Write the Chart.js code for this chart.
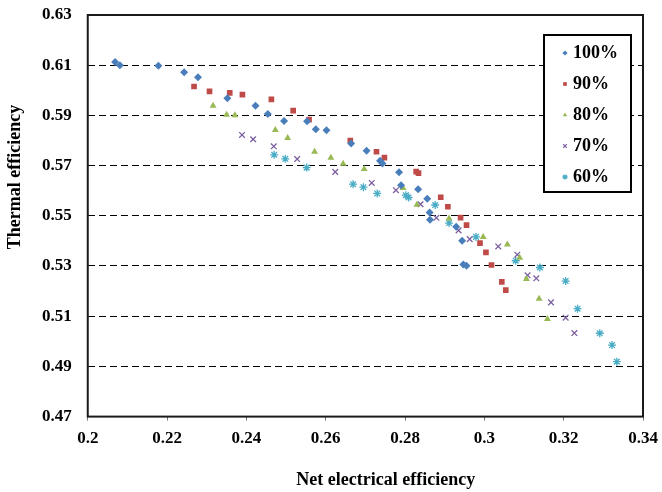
<!DOCTYPE html>
<html>
<head>
<meta charset="utf-8">
<script src="https://cdn.jsdelivr.net/npm/chart.js@4/dist/chart.umd.min.js"></script>
<style>
  html, body { margin: 0; padding: 0; background: #fff; }
  #wrap { width: 662px; height: 492px; }
</style>
</head>
<body>
<div id="wrap"><canvas id="effChart" width="662" height="492"></canvas></div>
<script>
// series
const seriesNames = ['100%', '90%', '80%', '70%', '60%'];

const x100 = [0.2069, 0.2081, 0.2178, 0.2243, 0.2278, 0.2352, 0.2423, 0.2454, 0.2495, 0.2553, 0.2575, 0.2602, 0.2664, 0.2703, 0.2737, 0.2743, 0.2785, 0.2790, 0.2833, 0.2856, 0.2862, 0.2863, 0.2929, 0.2944, 0.2947, 0.2955];
const y100 = [0.6113, 0.6100, 0.6098, 0.6072, 0.6052, 0.5968, 0.5938, 0.5906, 0.5878, 0.5877, 0.5845, 0.5841, 0.5788, 0.5759, 0.5719, 0.5708, 0.5674, 0.5622, 0.5606, 0.5568, 0.5513, 0.5484, 0.5456, 0.5401, 0.5306, 0.5301];

const x90 = [0.2268, 0.2307, 0.2358, 0.2390, 0.2463, 0.2518, 0.2558, 0.2662, 0.2728, 0.2748, 0.2828, 0.2834, 0.2890, 0.2908, 0.2940, 0.2955, 0.2989, 0.3004, 0.3018, 0.3044, 0.3054];
const y90 = [0.6015, 0.5996, 0.5990, 0.5983, 0.5964, 0.5919, 0.5883, 0.5800, 0.5755, 0.5732, 0.5676, 0.5670, 0.5574, 0.5536, 0.5493, 0.5463, 0.5391, 0.5354, 0.5304, 0.5237, 0.5204];

const x80 = [0.2316, 0.2350, 0.2371, 0.2473, 0.2504, 0.2572, 0.2613, 0.2644, 0.2697, 0.2795, 0.2830, 0.2911, 0.2997, 0.3058, 0.3089, 0.3106, 0.3138, 0.3159];
const y80 = [0.5938, 0.5903, 0.5901, 0.5842, 0.5810, 0.5755, 0.5731, 0.5707, 0.5686, 0.5611, 0.5544, 0.5489, 0.5416, 0.5386, 0.5333, 0.5248, 0.5170, 0.5089];

const x70 = [0.2389, 0.2417, 0.2469, 0.2528, 0.2624, 0.2716, 0.2777, 0.2839, 0.2879, 0.2935, 0.2963, 0.3035, 0.3083, 0.3109, 0.3131, 0.3168, 0.3205, 0.3227];
const y70 = [0.5822, 0.5805, 0.5777, 0.5726, 0.5675, 0.5631, 0.5602, 0.5546, 0.5492, 0.5442, 0.5407, 0.5378, 0.5345, 0.5263, 0.5251, 0.5155, 0.5094, 0.5033];

const x60 = [0.2470, 0.2498, 0.2552, 0.2669, 0.2695, 0.2730, 0.2802, 0.2809, 0.2876, 0.2911, 0.2979, 0.3079, 0.3140, 0.3205, 0.3235, 0.3291, 0.3322, 0.3334];
const y60 = [0.5743, 0.5727, 0.5692, 0.5626, 0.5614, 0.5589, 0.5582, 0.5573, 0.5543, 0.5471, 0.5416, 0.5321, 0.5294, 0.5240, 0.5130, 0.5032, 0.4985, 0.4919];

const xTickLabels = ['0.2', '0.22', '0.24', '0.26', '0.28', '0.3', '0.32', '0.34'];
const yTickLabels = ['0.47', '0.49', '0.51', '0.53', '0.55', '0.57', '0.59', '0.61', '0.63'];

const FONT = "'Liberation Serif', 'Times New Roman', serif";

function toPoints(xs, ys) {
    return xs.map((x, i) => ({ x: x, y: ys[i] }));
}

function makeSet(label, xs, ys, color, style, stroked) {
    return {
        label: label,
        data: toPoints(xs, ys),
        pointStyle: style,
        pointRadius: 4,
        backgroundColor: color,
        borderColor: color,
        borderWidth: stroked ? 1.3 : 0,
        showLine: false
    };
}

// frame around the plot area
const framePlugin = {
    id: 'frame',
    afterDraw(chart) {
        const a = chart.chartArea, ctx = chart.ctx;
        ctx.save();
        ctx.strokeStyle = '#1a1a1a';
        ctx.lineWidth = 2;
        ctx.strokeRect(a.left, a.top, a.right - a.left, a.bottom - a.top);
        ctx.restore();
    }
};

// axis titles, placed like the original (not centred on the plot)
const titlesPlugin = {
    id: 'axisTitles',
    afterDraw(chart) {
        const a = chart.chartArea, ctx = chart.ctx;
        ctx.save();
        ctx.fillStyle = '#000';
        ctx.font = 'bold 18px ' + FONT;
        ctx.textAlign = 'center';
        ctx.textBaseline = 'middle';
        ctx.fillText('Net electrical efficiency', a.left + 298, a.bottom + 64);
        ctx.translate(15, a.top + 162);
        ctx.rotate(-Math.PI / 2);
        ctx.fillText('Thermal efficiency', 0, 0);
        ctx.restore();
    }
};

// boxed legend in the upper right of the plot
const boxLegendPlugin = {
    id: 'boxLegend',
    afterDraw(chart) {
        const a = chart.chartArea, ctx = chart.ctx;
        const left = a.right - 99, top = a.top + 20, w = 87, h = 157;
        ctx.save();
        ctx.fillStyle = '#fff';
        ctx.fillRect(left, top, w, h);
        ctx.strokeStyle = '#000';
        ctx.lineWidth = 2;
        ctx.strokeRect(left, top, w, h);
        ctx.font = 'bold 18px ' + FONT;
        ctx.textAlign = 'left';
        ctx.textBaseline = 'middle';
        chart.data.datasets.forEach((ds, i) => {
            const cy = top + 18 + i * 31;
            ctx.fillStyle = ds.backgroundColor;
            ctx.strokeStyle = ds.borderColor;
            ctx.lineWidth = ds.borderWidth || 1;
            Chart.helpers.drawPoint(ctx, { pointStyle: ds.pointStyle, radius: 2.6, borderWidth: ds.borderWidth || 0, rotation: 0 }, left + 21, cy);
            ctx.fillStyle = '#000';
            ctx.fillText(ds.label, left + 29, cy);
        });
        ctx.restore();
    }
};

const ctx = document.getElementById('effChart').getContext('2d');
new Chart(ctx, {
    type: 'scatter',
    data: {
        datasets: [
            makeSet(seriesNames[0], x100, y100, '#4A7EBB', 'rectRot', false),
            makeSet(seriesNames[1], x90, y90, '#BE4B48', 'rect', false),
            makeSet(seriesNames[2], x80, y80, '#98B954', 'triangle', false),
            makeSet(seriesNames[3], x70, y70, '#7D60A0', 'crossRot', true),
            makeSet(seriesNames[4], x60, y60, '#4BACC6', 'star', true)
        ]
    },
    options: {
        responsive: false,
        animation: false,
        layout: { padding: { left: 26, right: 19, top: 15, bottom: 35 } },
        plugins: {
            legend: { display: false },
            tooltip: { enabled: false }
        },
        scales: {
            x: {
                type: 'linear',
                min: 0.2,
                max: 0.34,
                afterFit: (s) => { s.paddingRight = 0; },
                ticks: {
                    stepSize: 0.02,
                    padding: 8,
                    color: '#000',
                    font: { family: FONT, size: 17, weight: 'bold' },
                    callback: (v, i) => xTickLabels[i]
                },
                grid: { drawOnChartArea: false, drawTicks: true, tickLength: 4, tickColor: '#777' },
                border: { display: false }
            },
            y: {
                type: 'linear',
                min: 0.47,
                max: 0.63,
                afterFit: (s) => { s.paddingTop = 0; },
                ticks: {
                    stepSize: 0.02,
                    padding: 16,
                    color: '#000',
                    font: { family: FONT, size: 17, weight: 'bold' },
                    callback: (v, i) => yTickLabels[i]
                },
                grid: { color: '#000', lineWidth: 1, drawTicks: false },
                border: { display: false, dash: [7, 4] }
            }
        }
    },
    plugins: [framePlugin, titlesPlugin, boxLegendPlugin]
});
</script>
</body>
</html>
